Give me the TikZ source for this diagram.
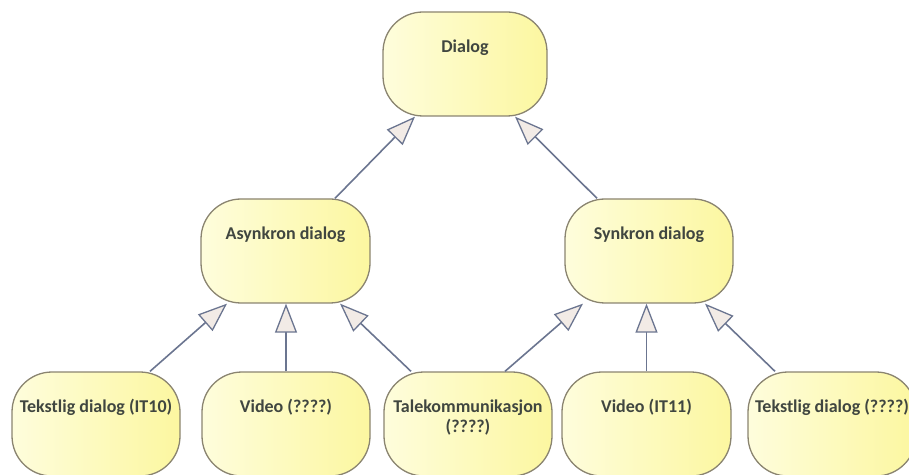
\documentclass[tikz,border=0pt]{standalone}
\usepackage{fontspec}
\setmainfont{Carlito}
\usetikzlibrary{arrows.meta}
\definecolor{boxL}{HTML}{FEFDDC}
\definecolor{boxR}{HTML}{FCF7A0}
\definecolor{boxB}{HTML}{8A8470}
\definecolor{lineC}{HTML}{6B7590}
\definecolor{headF}{HTML}{F2EBE6}
\definecolor{txtC}{HTML}{404640}
\tikzset{
  cls/.style={draw=boxB, line width=1.3pt, rounded corners=40pt, left color=boxL, right color=boxR,
    minimum height=104pt, inner sep=0pt},
  txt/.style={font=\bfseries\fontsize{18}{20}\selectfont, text=txtC, anchor=base, inner sep=0pt, align=center},
  gen/.style={draw=lineC, line width=1.6pt,
    -{Triangle[length=29pt, width=22pt, fill=headF, line width=1.3pt]}},
}
\begin{document}
\begin{tikzpicture}[x=1pt,y=1pt]
\useasboundingbox (0,0) rectangle (909,474);
% boxes
\node[cls, minimum width=164pt] (d) at (465,410) {};
\node[cls, minimum width=169pt] (a) at (285.5,223) {};
\node[cls, minimum width=168pt] (s) at (649,223) {};
\node[cls, minimum width=168pt] (b1) at (96,50) {};
\node[cls, minimum width=168pt] (b2) at (286,50) {};
\node[cls, minimum width=168pt] (b3) at (468,50) {};
\node[cls, minimum width=169pt] (b4) at (646.5,50) {};
\node[cls, minimum width=168pt] (b5) at (832,50) {};
% texts
\node[txt] (dt) at ([yshift=-41pt]d.north) {Dialog};
\node[txt] (at) at ([yshift=-41pt]a.north) {Asynkron dialog};
\node[txt] (st) at ([yshift=-41pt]s.north) {Synkron dialog};
\node[txt] (b1t) at ([yshift=-41pt]b1.north) {Tekstlig dialog (IT10)};
\node[txt] (b2t) at ([yshift=-41pt]b2.north) {Video (????)};
\node[txt] (b3t) at ([yshift=-61pt]b3.north) {Talekommunikasjon\\(????)};
\node[txt] (b4t) at ([yshift=-41pt]b4.north) {Video (IT11)};
\node[txt] (b5t) at ([yshift=-41pt]b5.north) {Tekstlig dialog (????)};
% generalisations
\draw[gen] ([xshift=49.5pt]a.north) -- ([xshift=-50pt]d.south);
\draw[gen] ([xshift=-52pt]s.north) -- ([xshift=50pt]d.south);
\draw[gen] ([xshift=54pt]b1.north) -- ([xshift=-58.5pt]a.south);
\draw[gen] (b2.north) -- (b2.north |- a.south);
\draw[gen] ([xshift=-57pt]b3.north) -- ([xshift=54.5pt]a.south);
\draw[gen] ([xshift=37pt]b3.north) -- ([xshift=-66pt]s.south);
\draw[gen] (b4.north) -- (b4.north |- s.south);
\draw[gen] ([xshift=-57pt]b5.north) -- ([xshift=56pt]s.south);
\end{tikzpicture}
\end{document}
